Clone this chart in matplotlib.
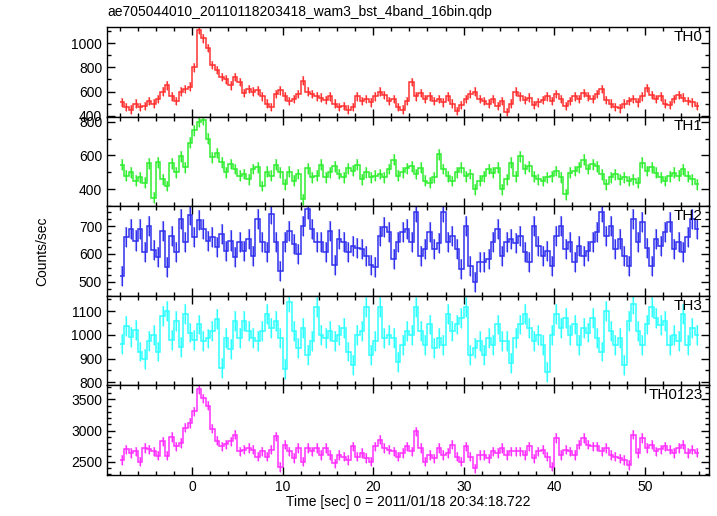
import numpy as np
import matplotlib
matplotlib.use('Agg')
import matplotlib.pyplot as plt
from matplotlib.ticker import MultipleLocator

# WAM light curve, 4 energy bands + sum, 0.5 s bins starting at -8 s
t_start = -8.0
bin_size = 0.5

# counts/sec, one row = 4 s (8 bins)
th0 = [510, 470, 450, 500, 470, 480, 520, 500,
       540, 600, 650, 560, 520, 600, 620, 640,
       800, 1110, 1040, 960, 820, 780, 720, 700,
       650, 720, 680, 590, 620, 600, 610, 560,
       500, 470, 580, 610, 560, 520, 540, 580,
       690, 600, 580, 560, 550, 530, 560, 500,
       470, 480, 450, 470, 560, 520, 540, 510,
       560, 600, 570, 520, 540, 470, 450, 520,
       680, 560, 590, 540, 560, 520, 540, 510,
       560, 500, 440, 490, 540, 580, 600, 540,
       520, 500, 540, 480, 520, 430, 500, 600,
       560, 530, 550, 490, 510, 530, 560, 520,
       580, 540, 480, 520, 560, 540, 590, 560,
       540, 580, 620, 530, 500, 470, 460, 500,
       520, 540, 510, 560, 630, 570, 540, 560,
       500, 490, 540, 570, 550, 520, 510, 480]

th1 = [545, 480, 500, 450, 470, 440, 555, 350,
       560, 460, 420, 555, 500, 595, 530, 675,
       750, 800, 810, 700, 590, 615, 560, 500,
       550, 520, 480, 490, 460, 520, 530, 420,
       505, 480, 545, 500, 430, 505, 450, 490,
       340, 525, 470, 480, 545, 470, 500, 535,
       490, 470, 525, 510, 545, 460, 500, 470,
       480, 490, 470, 520, 575, 480, 500, 525,
       537, 490, 527, 450, 440, 470, 606, 520,
       478, 449, 500, 527, 478, 490, 400, 450,
       478, 520, 498, 527, 400, 460, 557, 478,
       596, 520, 537, 478, 460, 449, 470, 478,
       508, 470, 370, 498, 508, 530, 576, 520,
       547, 537, 488, 429, 470, 488, 459, 470,
       449, 460, 439, 557, 508, 530, 498, 470,
       449, 478, 498, 480, 518, 478, 460, 429]

th2 = [520, 660, 690, 648, 690, 606, 700, 615,
       588, 683, 552, 665, 606, 725, 642, 740,
       660, 720, 690, 645, 660, 624, 671, 612,
       648, 588, 642, 612, 654, 594, 725, 642,
       606, 743, 642, 540, 642, 683, 636, 600,
       700, 760, 689, 642, 642, 606, 683, 560,
       654, 642, 606, 630, 620, 618, 594, 560,
       552, 665, 695, 677, 582, 642, 677, 689,
       642, 749, 594, 618, 677, 618, 640, 749,
       642, 665, 618, 546, 701, 558, 499, 570,
       570, 582, 642, 689, 594, 642, 654, 640,
       665, 606, 570, 701, 630, 594, 610, 558,
       665, 701, 618, 642, 570, 630, 594, 610,
       642, 677, 749, 665, 701, 618, 654, 594,
       558, 725, 642, 713, 620, 558, 654, 630,
       677, 713, 618, 642, 606, 660, 725, 689]

th3 = [960, 1037, 990, 1020, 930, 900, 975, 1000,
       930, 1080, 1100, 980, 1059, 950, 1090, 1010,
       980, 1044, 973, 985, 1016, 1066, 860, 987,
       940, 1059, 987, 1059, 1016, 987, 973, 1016,
       1087, 1030, 1059, 987, 858, 1140, 1016, 944,
       1030, 916, 973, 1116, 1001, 987, 1016, 973,
       1001, 1030, 930, 873, 1001, 1016, 1116, 916,
       973, 1116, 987, 1001, 987, 887, 958, 1016,
       1001, 1116, 1016, 958, 1044, 944, 987, 958,
       1087, 1016, 1044, 1073, 1116, 916, 944, 973,
       916, 987, 958, 1044, 973, 973, 880, 987,
       1044, 1087, 1030, 973, 1001, 958, 844, 1000,
       1087, 1030, 1073, 1001, 1044, 958, 1030, 1010,
       1073, 987, 930, 1101, 1016, 958, 987, 873,
       1059, 1130, 1016, 958, 1044, 1116, 1073, 1040,
       1059, 958, 1001, 973, 1087, 958, 1030, 1000]

th0123 = [2532, 2700, 2640, 2667, 2505, 2720, 2700, 2667,
          2600, 2830, 2600, 2900, 2750, 2800, 3050, 3120,
          3310, 3660, 3520, 3400, 3030, 2840, 2750, 2780,
          2830, 2935, 2667, 2694, 2720, 2694, 2586, 2667,
          2586, 2694, 2909, 2420, 2774, 2667, 2560, 2720,
          2505, 2720, 2667, 2720, 2613, 2720, 2613, 2478,
          2613, 2586, 2532, 2747, 2586, 2640, 2560, 2505,
          2747, 2855, 2720, 2694, 2667, 2586, 2640, 2747,
          2667, 2990, 2720, 2505, 2613, 2559, 2720, 2613,
          2640, 2774, 2586, 2505, 2747, 2586, 2398, 2613,
          2613, 2559, 2667, 2640, 2720, 2613, 2667, 2667,
          2667, 2613, 2747, 2559, 2667, 2694, 2586, 2425,
          2882, 2613, 2694, 2667, 2613, 2774, 2882, 2774,
          2747, 2747, 2667, 2720, 2613, 2586, 2559, 2532,
          2452, 2935, 2640, 2882, 2720, 2774, 2667, 2700,
          2747, 2694, 2640, 2720, 2774, 2640, 2694, 2650]

# typical 1-sigma error per band (counts/sec)
errors = [35, 32, 36, 42, 75]

bands = ['TH0', 'TH1', 'TH2', 'TH3', 'TH0123']
series = [th0, th1, th2, th3, th0123]
colors = ['#ff3030', '#30ee30', '#3030ee', '#30ffff', '#ff30ff']
ylims = [(392, 1135), (300, 830), (450, 771), (787, 1165), (2290, 3725)]
major = [200, 200, 100, 100, 500]
minor = [100, 100, 25, 50, 100]

plt.rcParams['font.family'] = ['Liberation Sans', 'DejaVu Sans']
plt.rcParams['font.size'] = 10
plt.rcParams['axes.linewidth'] = 1.0

W, H = 717, 516
fig = plt.figure(figsize=(W / 100, H / 100), dpi=100)

left, right = 107, 709
top, bottom = 27, 475
ph = (bottom - top) / 5

n = len(th0)
edges = t_start + bin_size * np.arange(n + 1)
time = edges[:-1] + bin_size / 2

axes = []
for i in range(5):
    y0 = 1 - (top + (i + 1) * ph) / H
    ax = fig.add_axes([left / W, y0, (right - left) / W, ph / H])
    ax.errorbar(time, series[i], yerr=errors[i], fmt='none',
                ecolor=colors[i], elinewidth=1.6, alpha=0.45, capsize=0)
    ax.errorbar(time, series[i], yerr=errors[i], fmt='none',
                ecolor=colors[i], elinewidth=0.8, capsize=0)
    ax.stairs(series[i], edges, baseline=None, color=colors[i], lw=1.1)
    ax.set_xlim(-9.4, 57.1)
    ax.set_ylim(*ylims[i])
    ax.xaxis.set_major_locator(MultipleLocator(10))
    ax.xaxis.set_minor_locator(MultipleLocator(2))
    ax.yaxis.set_major_locator(MultipleLocator(major[i]))
    ax.yaxis.set_minor_locator(MultipleLocator(minor[i]))
    ax.tick_params(which='both', direction='in', top=True, right=True, width=1.0)
    ax.tick_params(which='major', length=6, labelsize=10)
    ax.tick_params(which='minor', length=3)
    if i < 4:
        ax.tick_params(labelbottom=False)
    ax.text(0.99, 0.89, bands[i], transform=ax.transAxes, ha='right', va='center', fontsize=11)
    axes.append(ax)

axes[-1].set_xlabel('Time [sec] 0 = 2011/01/18 20:34:18.722', fontsize=10, labelpad=1)

fig.text(left / W, 1 - 12 / H, 'ae705044010_20110118203418_wam3_bst_4band_16bin.qdp',
         ha='left', va='center', fontsize=10)
fig.text(42 / W, 1 - 251 / H, 'Counts/sec', rotation=90, ha='center', va='center', fontsize=10)

fig.savefig('out.png', dpi=100)
